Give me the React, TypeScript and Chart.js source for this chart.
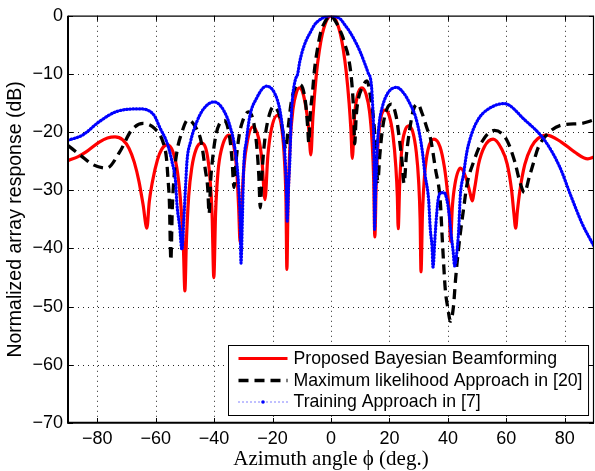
import React, { useEffect, useRef } from "react";
import { Chart, registerables } from "chart.js";

Chart.register(...registerables);

// ---------- data ----------
const xTicks = [-80, -60, -40, -20, 0, 20, 40, 60, 80];
const yTicks = [0, -10, -20, -30, -40, -50, -60, -70];
const xLimits = [-90, 90];
const yLimits = [-70, 0];

const seriesLabels = [
  "Proposed Bayesian Beamforming",
  "Maximum likelihood Approach in [20]",
  "Training Approach in [7]",
];

const bayesAngle = [
  -90, -86.5, -83.8, -79.3, -76.5, -73.9, -71.3, -69.1, -67.3, -65.7, -64.3, -63.0, -62.2, -61.1, -59.4, -58, -56,
  -54, -52.5, -51.3, -50.5, -50, -49.5, -48.7, -47.6, -46.2, -44.3, -42.5, -41.4, -40.7, -40.1, -39.5, -38.7, -37.5,
  -34.9, -33.2, -32.2, -31.6, -31.1, -30.5, -29.8, -28.6, -26.8, -24.8, -23.6, -22.6, -21.6, -20.4, -18.3, -16.8,
  -15.9, -15.4, -15.1, -14.7, -14.0, -13.0, -11.9, -10.8, -9.6, -8.5, -7.6, -6.9, -6.2, -5, -4, -3, -2, -1, 0.2,
  1.2, 2.2, 3.2, 4.2, 5.2, 6.2, 6.8, 7.3, 8.0, 9.0, 10.6, 12.0, 13.2, 14.1, 14.6, 15.0, 15.5, 16.3, 17.3, 18.6,
  20.0, 21.2, 22.2, 22.7, 23.0, 23.5, 24.3, 25.3, 26.6, 28.0, 29.2, 30.0, 30.5, 30.8, 31.3, 32.0, 33.2, 35.2, 37.3,
  38.8, 39.9, 40.5, 40.9, 41.5, 42.4, 44.3, 46.3, 47.6, 48.3, 49.2, 50.5, 52.5, 55.5, 58.3, 60.3, 61.8, 62.6, 63.2,
  63.8, 64.6, 66.3, 68.6, 70.8, 73.7, 78.8, 83.3, 87.9, 90,
];
const bayesDb = [
  -24.9, -24.2, -23.4, -21.7, -21.0, -20.8, -21.3, -22.8, -25.2, -28.5, -32.5, -36.5, -32, -28.5, -24.8, -23, -22.2,
  -23.5, -27, -33, -40, -47.3, -39, -31, -26, -23, -21.9, -23.5, -28, -34, -45, -34, -27, -23,
  -20.5, -22.5, -27, -33, -39, -32, -26, -21.5, -19.1, -21, -25, -31.6, -24, -19.5, -17.1, -19.5,
  -25, -32, -43.6, -32, -22, -16, -13.3, -12.4, -13.3, -16, -19.5, -23.9, -17.5, -10, -6, -3.2, -1.4, -0.35, 0,
  -0.35, -1.4, -3.1, -5.8, -9.6, -15, -19.5, -24.5, -17.5, -13.8, -12.4, -13.5, -16.5, -22, -28, -38, -28, -20.5, -17, -16.2,
  -17.3, -20.5, -26, -31, -36.6, -29, -22.5, -19.8, -18.9, -20, -23.5, -28.5, -35, -44, -34, -27.5, -23, -21.2, -22.5,
  -26, -30.5, -34, -38.8, -33, -29, -26.2, -28, -30.5, -31.8, -29.5, -25.5, -22.5, -21.2, -22.8, -25.5, -30, -34, -36.5,
  -33.5, -30.2, -25.6, -22.5, -21.1, -20.5, -21.7, -23.4, -24.6, -24.3,
];

const mlAngle = [
  -90, -85.9, -81.4, -76.8, -72.3, -68.3, -64.3, -60.3, -57.5, -56.3, -55.8, -55.3, -54.8, -54.3, -53.6, -52.6, -51.2,
  -49.0, -46.5, -44.4, -43.0, -42.2, -41.7, -41.2, -40.5, -39.5, -38.2, -36.5, -34.8, -33.9, -33.2, -32.4, -31.4,
  -30.3, -28.2, -26.4, -25.3, -24.7, -24.2, -23.6, -22.7, -21.6, -19.6, -17.5, -16.3, -15.5, -14.6, -13.6, -12.2,
  -10.9, -9.7, -8.6, -8.0, -7.6, -7.1, -6.3, -5.7, -4.5, -3.4, -2, -1, 0, 1.7, 3.0, 4.0, 5.0, 5.7, 6.8, 7.4, 7.8, 8.1,
  8.6, 9.1, 10.8, 12.3, 13.7, 14.6, 15.4, 16.0, 16.7, 17.6, 19.0, 20.7, 22.3, 23.3, 24.3, 25.0, 25.8, 27.0, 28.3,
  29.7, 31.2, 32.9, 34.1, 35.7, 37.4, 38.0, 38.5, 39.1, 40.0, 40.9, 41.9, 42.6, 43.1, 44.2, 45.4, 46.5, 48.8, 51.6,
  55.9, 60.1, 62.9, 64.6, 66.2, 67.8, 69.1, 70.8, 73.7, 78.8, 85.6, 90,
];
const mlDb = [
  -22.3, -23.9, -25.6, -26.2, -23.4, -19.7, -18.5, -19.4, -21.7, -24.5, -27.9, -32, -42, -33, -27, -23, -20.3,
  -17.9, -19, -21.7, -26.5, -29.5, -34, -28.5, -24.5, -20.8, -18.6, -18.0, -20.5, -24.5, -29.5, -24.5, -20.5,
  -18.2, -16.5, -18.5, -23, -27.5, -33, -27, -21.5, -18, -15.6, -17.3, -20.3, -23, -19, -14.8, -12.3,
  -11.8, -12.4, -15.4, -19, -21.8, -17, -13, -9.5, -5.3, -2.6, -1, -0.25, 0, -1.1, -2.4, -3.6, -5.3, -6.5, -9.9, -13.3, -17, -22,
  -17.5, -15, -12.2, -11.2, -14.5, -18, -23.5, -28.5, -24, -19.5, -16.2, -15.2, -17.3, -20.8, -25, -28.8, -24, -19.3, -16,
  -15.2, -16.8, -19.4, -21.2, -26.2, -31.9, -37.6, -42.2, -47, -50.3, -52.5, -50, -45.5, -42.7, -37.6, -33.1, -29.1, -25.1, -21.7,
  -19.7, -21.3, -25.1, -28.5, -30.4, -27.8, -25.6, -22.8, -20.5, -18.8, -18.5, -17.9,
];

const trainAngle = [
  -90, -85, -79.3, -73.6, -65.8, -60.7, -58.4, -56.7, -55.5, -54.4, -53.2, -52.7, -51.8, -51.0, -50.4, -49.8, -49.3,
  -48.1, -45.9, -43.6, -40.0, -36.8, -34.5, -32.8, -31.6, -31.1, -30.8, -30.3, -29.9, -28.9, -27.8, -25.5, -22.1,
  -19.3, -17.5, -16.4, -15.8, -15.3, -15.0, -14.5, -14.1, -13.6, -13.1, -12.2, -11.4, -10.7, -9.1, -6.7, -5.7, -3.3,
  0, 3.3, 4.5, 6.5, 8.5, 10.0, 11.4, 12.7, 13.7, 14.2, 14.6, 14.8, 14.9, 15.3, 15.8, 16.5, 17.5, 19.3, 22.4, 24.9,
  27.2, 28.9, 30.3, 31.3, 32.2, 33.4, 34.0, 34.6, 34.9, 35.6, 36.2, 36.8, 37.8, 38.7, 39.6, 40.4, 41.2, 41.8, 42.3,
  43.0, 43.7, 44.2, 45.4, 46.5, 48.2, 50.5, 53.9, 59.3, 66.3, 73.1, 78.2, 82.2, 86.1, 90,
];
const trainDb = [
  -21.4, -20.5, -18.2, -16.5, -16.0, -17.0, -19.4, -21.1, -22.8, -25.1, -28.5, -32.5, -36.2, -40.2, -35.3, -29.6, -25.1,
  -21.7, -18.2, -16.0, -14.8, -16.2, -19.1, -23.1, -29.3, -34.8, -42.5, -34.4, -26.4, -21.3, -17.3, -14.2, -12.1,
  -13.3, -16.2, -20.2, -23.6, -29.3, -35.3, -29, -25, -17.5, -13.8, -11.0, -10.0, -7.9, -5.0, -2.5, -1.6, -0.5,
  0, -0.6, -1.4, -2.8, -4.6, -6.2, -8.0, -9.8, -11.4, -14.8, -20.5, -28, -36.7, -30, -23, -18.5, -15.8, -13.4, -12.3, -13.3,
  -15.3, -17.3, -20.3, -23.5, -27.4, -31.6, -36.8, -39.9, -43.2, -38, -33.9, -31.2, -30.4, -30.4, -31.5, -34, -38, -40.5, -43,
  -41, -36.8, -31.3, -27.1, -23.4, -20.2, -17.7, -16.0, -15.1, -17.9, -21.4, -25.9, -31.1, -35.9, -39.6,
];

const toPoints = (xs: number[], ys: number[]) => xs.map((x, i) => ({ x, y: ys[i] }));
const fmt = (v: number) => (v < 0 ? "\u2212" + Math.abs(v) : String(v));

const SANS = "'Liberation Sans', Arial, Helvetica, sans-serif";
const SERIF = "'Liberation Serif', 'Times New Roman', serif";

export default function App() {
  const ref = useRef<HTMLCanvasElement | null>(null);

  useEffect(() => {
    document.body.style.margin = "0";
    const canvas = ref.current;
    if (!canvas) return;

    const framePlugin = {
      id: "matlabFrame",
      beforeDatasetsDraw(chart: any) {
        const { ctx, chartArea: a, scales } = chart;
        const xs = scales.x;
        const ys = scales.y;
        ctx.save();
        ctx.strokeStyle = "rgba(0,0,0,0.85)";
        ctx.lineWidth = 1;
        ctx.setLineDash([1, 4]);
        xTicks.forEach((v) => {
          const px = Math.round(xs.getPixelForValue(v)) + 0.5;
          ctx.beginPath();
          ctx.moveTo(px, a.top);
          ctx.lineTo(px, a.bottom);
          ctx.stroke();
        });
        yTicks.forEach((v) => {
          if (v === yLimits[0] || v === yLimits[1]) return;
          const py = Math.round(ys.getPixelForValue(v)) + 0.5;
          ctx.beginPath();
          ctx.moveTo(a.left, py);
          ctx.lineTo(a.right, py);
          ctx.stroke();
        });
        ctx.restore();
      },
      afterDatasetsDraw(chart: any) {
        const { ctx, chartArea: a, scales } = chart;
        const xs = scales.x;
        const ys = scales.y;
        ctx.save();
        ctx.setLineDash([]);
        ctx.strokeStyle = "#000";
        // frame
        ctx.lineWidth = 1.2;
        ctx.beginPath();
        ctx.moveTo(a.left, a.top + 0.3);
        ctx.lineTo(a.right - 0.5, a.top + 0.3);
        ctx.lineTo(a.right - 0.5, a.bottom);
        ctx.stroke();
        ctx.lineWidth = 2;
        ctx.beginPath();
        ctx.moveTo(a.left, a.top);
        ctx.lineTo(a.left, a.bottom - 0.3);
        ctx.lineTo(a.right, a.bottom - 0.3);
        ctx.stroke();
        // inner ticks
        ctx.lineWidth = 1;
        const tl = 5;
        xTicks.forEach((v) => {
          const px = Math.round(xs.getPixelForValue(v)) + 0.5;
          ctx.beginPath();
          ctx.moveTo(px, a.bottom);
          ctx.lineTo(px, a.bottom - tl);
          ctx.moveTo(px, a.top);
          ctx.lineTo(px, a.top + tl);
          ctx.stroke();
        });
        yTicks.forEach((v) => {
          const py = Math.round(ys.getPixelForValue(v)) + 0.5;
          ctx.beginPath();
          ctx.moveTo(a.left, py);
          ctx.lineTo(a.left + tl, py);
          ctx.moveTo(a.right, py);
          ctx.lineTo(a.right - tl, py);
          ctx.stroke();
        });

        // legend box (lower right, inside the axes)
        const ds = chart.data.datasets;
        ctx.font = `17.7px ${SANS}`;
        const maxW = Math.max(...seriesLabels.map((s) => ctx.measureText(s).width));
        const boxRight = a.right - 6;
        const boxBottom = a.bottom - 8.5;
        const boxW = 10 + 49 + 6 + maxW + 6;
        const boxH = 70;
        const bl = Math.round(boxRight - boxW) + 0.5;
        const bt = Math.round(boxBottom - boxH) + 0.5;
        ctx.fillStyle = "#fff";
        ctx.fillRect(bl, bt, boxW, boxH);
        ctx.lineWidth = 1;
        ctx.strokeStyle = "#000";
        ctx.strokeRect(bl, bt, boxW, boxH);
        const rowY = [13, 35, 56.5];
        seriesLabels.forEach((label, i) => {
          const y = bt + rowY[i];
          const x0 = bl + 10;
          const x1 = x0 + 49;
          const d = ds[i];
          ctx.save();
          ctx.strokeStyle = d.borderColor;
          if (i === 2) {
            ctx.lineWidth = 1;
            ctx.setLineDash([1, 3]);
            ctx.lineCap = "butt";
          } else {
            ctx.lineWidth = d.borderWidth;
            ctx.setLineDash(d.borderDash || []);
            ctx.lineCap = "butt";
          }
          ctx.beginPath();
          ctx.moveTo(x0, y);
          ctx.lineTo(x1, y);
          ctx.stroke();
          if (i === 2) {
            ctx.fillStyle = d.borderColor;
            ctx.beginPath();
            ctx.arc((x0 + x1) / 2, y, 1.8, 0, Math.PI * 2);
            ctx.fill();
          }
          ctx.restore();
          ctx.fillStyle = "#000";
          ctx.textBaseline = "middle";
          ctx.textAlign = "left";
          ctx.fillText(label, x1 + 6, y + 0.5);
        });
        ctx.restore();
      },
    };

    const chart = new Chart(canvas, {
      type: "line",
      data: {
        datasets: [
          {
            label: seriesLabels[0],
            data: toPoints(bayesAngle, bayesDb),
            borderColor: "#ff0000",
            borderWidth: 3.2,
            pointRadius: 0,
            cubicInterpolationMode: "monotone",
            order: 3,
          },
          {
            label: seriesLabels[1],
            data: toPoints(mlAngle, mlDb),
            borderColor: "#000000",
            borderWidth: 3.3,
            borderDash: [10, 6],
            pointRadius: 0,
            cubicInterpolationMode: "monotone",
            order: 2,
          },
          {
            label: seriesLabels[2],
            data: toPoints(trainAngle, trainDb),
            borderColor: "#0000ff",
            borderWidth: 3.2,
            borderDash: [0.7, 2.5],
            borderCapStyle: "round",
            pointRadius: 0,
            cubicInterpolationMode: "monotone",
            order: 1,
          },
        ] as any,
      },
      options: {
        responsive: false,
        animation: false,
        events: [],
        layout: { padding: { left: 0, right: 1, top: 13, bottom: 0 } },
        plugins: {
          legend: { display: false },
          tooltip: { enabled: false },
          title: { display: false },
        },
        scales: {
          x: {
            type: "linear",
            min: xLimits[0],
            max: xLimits[1],
            afterBuildTicks: (s: any) => {
              s.ticks = xTicks.map((v) => ({ value: v }));
            },
            afterFit: (s: any) => {
              s.height = 48;
            },
            grid: { display: false, drawTicks: false },
            border: { display: false },
            ticks: {
              padding: 5,
              color: "#000",
              font: { family: SANS, size: 18 },
              maxRotation: 0,
              autoSkip: false,
              callback: (v: any) => fmt(Number(v)),
            },
            title: {
              display: true,
              text: "Azimuth angle \u03D5 (deg.)",
              color: "#000",
              font: { family: SERIF, size: 21, lineHeight: 1.1 },
              padding: { top: 0, bottom: 0 },
            },
          },
          y: {
            type: "linear",
            min: yLimits[0],
            max: yLimits[1],
            afterBuildTicks: (s: any) => {
              s.ticks = yTicks.map((v) => ({ value: v }));
            },
            afterFit: (s: any) => {
              s.width = 68;
            },
            grid: { display: false, drawTicks: false },
            border: { display: false },
            ticks: {
              padding: 5,
              color: "#000",
              font: { family: SANS, size: 18 },
              autoSkip: false,
              callback: (v: any) => fmt(Number(v)),
            },
            title: {
              display: true,
              text: "Normalized array response (dB)",
              color: "#000",
              font: { family: SANS, size: 19.5, lineHeight: 1.2 },
              padding: { top: 4, bottom: 0 },
            },
          },
        },
      } as any,
      plugins: [framePlugin],
    });

    return () => chart.destroy();
  }, []);

  return (
    <div style={{ width: 595, height: 471, position: "relative" }}>
      <canvas ref={ref} width={595} height={471} style={{ display: "block" }} />
    </div>
  );
}
